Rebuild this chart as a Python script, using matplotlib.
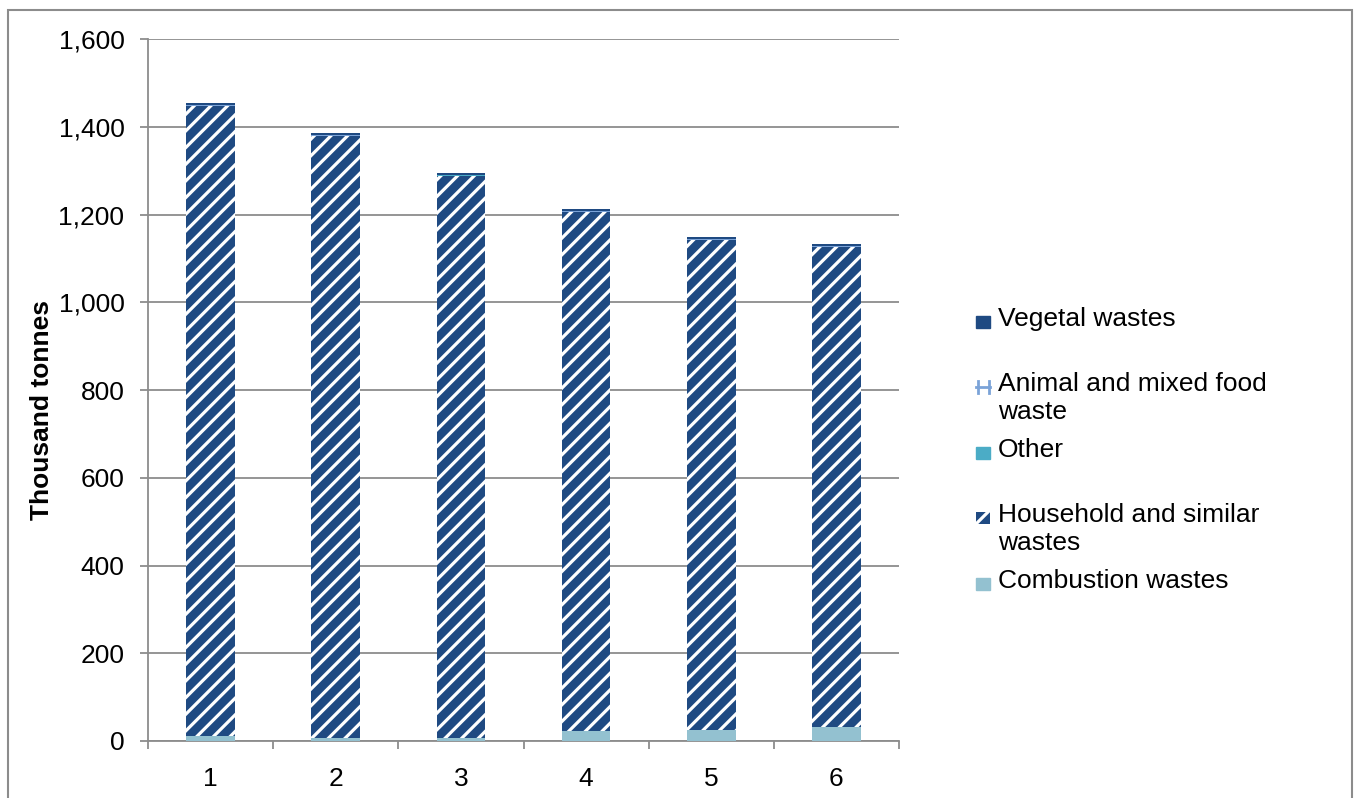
import matplotlib
matplotlib.use("Agg")
import matplotlib.pyplot as plt
from matplotlib.patches import Rectangle
from matplotlib.lines import Line2D
import numpy as np

categories = ["1", "2", "3", "4", "5", "6"]
combustion = [11, 6, 6, 22, 25, 32]
household = [1436, 1373, 1282, 1183, 1117, 1094]
other = [1, 1, 1, 1, 1, 1]
animal = [2, 2, 2, 2, 2, 2]
vegetal = [4, 4, 4, 4, 4, 4]
yticks = [0, 200, 400, 600, 800, 1000, 1200, 1400, 1600]

plt.rcParams['font.family'] = ['Liberation Sans', 'DejaVu Sans']
plt.rcParams['hatch.linewidth'] = 2.3

W, H = 1357, 798
fig = plt.figure(figsize=(W / 100, H / 100), dpi=100)
ax = fig.add_axes([148 / W, 1 - 741 / H, (899 - 148) / W, (741 - 39) / H])

navy = '#1F4A82'
c_comb = '#93C1D0'
c_other = '#4BACC6'
c_anim = '#7BA3D8'
grid_c = '#8c8c8c'
FS = 19

x = np.arange(len(categories))
bw = 0.39
bottom = np.zeros(len(x))
ax.bar(x, combustion, bw, bottom=bottom, color=c_comb, linewidth=0, zorder=3)
bottom += combustion
ax.bar(x, household, bw, bottom=bottom, facecolor=navy, edgecolor='white',
       hatch='//', linewidth=0, zorder=3)
bottom += household
ax.bar(x, other, bw, bottom=bottom, color=c_other, linewidth=0, zorder=3)
bottom += other
ax.bar(x, animal, bw, bottom=bottom, color=c_anim, linewidth=0, zorder=3)
bottom += animal
ax.bar(x, vegetal, bw, bottom=bottom, color=navy, linewidth=0, zorder=3)

ax.set_xlim(-0.5, len(x) - 0.5)
ax.set_ylim(0, 1600)
ax.set_yticks(yticks)
ax.set_yticklabels([f"{v:,}" for v in yticks], fontsize=FS)
ax.yaxis.grid(True, color=grid_c, linewidth=1.3, zorder=0)
ax.tick_params(axis='y', length=6, width=1.3, color=grid_c, pad=11)

ax.set_xticks(np.arange(len(x) + 1) - 0.5)
ax.set_xticklabels([])
ax.set_xticks(x, minor=True)
ax.set_xticklabels(categories, minor=True, fontsize=FS)
ax.tick_params(axis='x', which='major', length=6, width=1.3, color=grid_c)
ax.tick_params(axis='x', which='minor', length=0, pad=19)

for s in ['top', 'right']:
    ax.spines[s].set_visible(False)
for s in ['left', 'bottom']:
    ax.spines[s].set_color(grid_c)
    ax.spines[s].set_linewidth(1.3)

fig.text(42 / W, 1 - 410 / H, "Thousand tonnes", fontsize=19, fontweight='bold',
         rotation=90, ha='center', va='center')

# legend (manual, Excel-like spacing)
tx = 998 / W
mx = 976 / W
mw = 14 / W
mh = 12 / H
entries = [
    ("Vegetal wastes", 318, 'veg'),
    ("Animal and mixed food\nwaste", 383, 'anim'),
    ("Other", 449, 'other'),
    ("Household and similar\nwastes", 514, 'house'),
    ("Combustion wastes", 580, 'comb'),
]
for label, ypx, kind in entries:
    yc = 1 - (ypx + 4) / H
    fig.text(tx, 1 - (ypx - 11) / H, label, fontsize=FS, va='top', ha='left',
             linespacing=1.2)
    if kind == 'veg':
        fig.add_artist(Rectangle((mx, yc - mh / 2), mw, mh, color=navy, transform=fig.transFigure))
    elif kind == 'other':
        fig.add_artist(Rectangle((mx, yc - mh / 2), mw, mh, color=c_other, transform=fig.transFigure))
    elif kind == 'comb':
        fig.add_artist(Rectangle((mx, yc - mh / 2), mw, mh, color=c_comb, transform=fig.transFigure))
    elif kind == 'house':
        fig.add_artist(Rectangle((mx, yc - mh / 2), mw, mh, facecolor=navy, edgecolor='white',
                                 hatch='//', linewidth=0, transform=fig.transFigure))
    elif kind == 'anim':
        fig.add_artist(Line2D([mx + 1.5 / W, mx + 1.5 / W], [yc - mh / 2, yc + mh / 2],
                              color=c_anim, lw=2, transform=fig.transFigure))
        fig.add_artist(Line2D([mx + mw - 1.5 / W, mx + mw - 1.5 / W], [yc - mh / 2, yc + mh / 2],
                              color=c_anim, lw=2, transform=fig.transFigure))
        fig.add_artist(Line2D([mx, mx + mw], [yc, yc], color=c_anim, lw=2,
                              transform=fig.transFigure))

# outer chart border
fig.add_artist(Rectangle((8 / W, -0.05), (1352 - 8) / W, 1.05 - 10 / H, fill=False,
                         edgecolor=grid_c, linewidth=1.5, transform=fig.transFigure))

fig.savefig("out.png", dpi=100)
